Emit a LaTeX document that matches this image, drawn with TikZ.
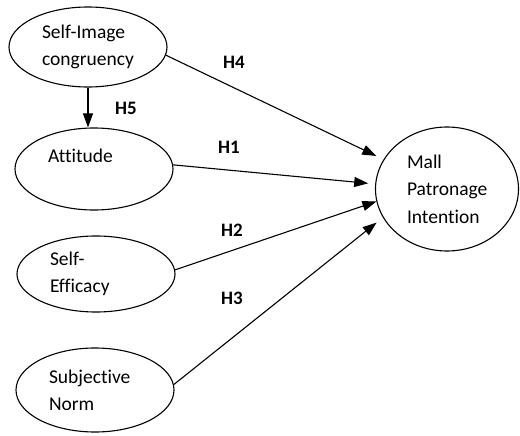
\documentclass[tikz,border=0pt]{standalone}
\usepackage{fontspec}
\setmainfont{Carlito}[Ligatures=NoCommon]
\usetikzlibrary{shapes.geometric,arrows.meta}

\begin{document}
\begin{tikzpicture}[x=1pt, y=-1pt, line width=1.1pt,
  construct/.style={draw, ellipse, inner sep=0pt, minimum width=158pt,
    minimum height=80pt, text width=92pt, align=left,
    font=\fontsize{19.5}{27}\selectfont},
  hyp/.style={font=\fontsize{19}{22}\selectfont\bfseries},
  link/.style={-{Triangle[length=14pt, width=10pt]}}]
  \useasboundingbox (0,0) rectangle (520,436);
  % constructs
  \node[construct] (sic) at (88,47)  {Self-Image\\congruency};
  \node[construct, minimum height=82pt] (att) at (94,169) {Attitude\\\mbox{}};
  \node[construct, minimum height=76pt] (se)  at (96,274) {Self-\\Efficacy};
  \node[construct, minimum height=84pt] (sn)  at (95,390) {Subjective\\Norm};
  \node[construct, minimum width=143pt, minimum height=124pt, text width=80pt,
    font=\fontsize{19.5}{27.5}\selectfont] (mpi) at (447,189)
    {Mall\\Patronage\\Intention};
  % hypotheses
  \draw[link] (sic.south) -- (sic.south |- att.north);
  \draw[link, shorten >=8pt] (sic.-6) -- (mpi.155);
  \draw[link, shorten >=7pt] (att.3)  -- (mpi.176);
  \draw[link]                (se.3)   -- (mpi.190);
  \draw[link, shorten >=8pt] (sn.4)   -- (mpi.204);
  % labels
  \node[hyp] (h4) at (234,62)  {H4};
  \node[hyp] (h5) at (126,108) {H5};
  \node[hyp] (h1) at (229,147) {H1};
  \node[hyp] (h2) at (232,230) {H2};
  \node[hyp] (h3) at (232,298) {H3};
\end{tikzpicture}
\end{document}
